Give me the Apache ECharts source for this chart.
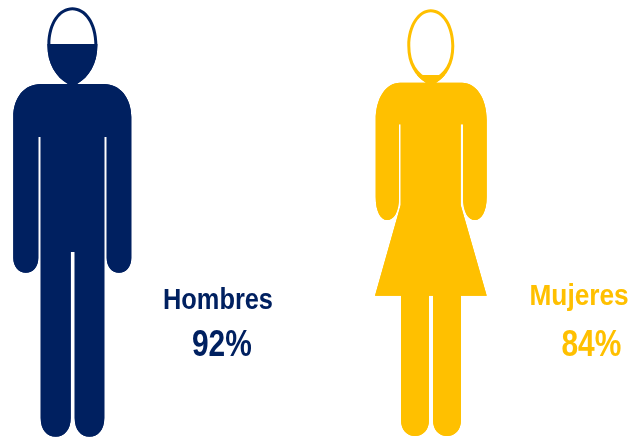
<!DOCTYPE html>
<html>
<head>
<meta charset="utf-8">
<style>html,body{margin:0;padding:0;background:#fff}#chart{width:632px;height:437px}</style>
<script src="https://cdn.jsdelivr.net/npm/echarts@6/dist/echarts.min.js"></script>
</head>
<body>
<div id="chart"></div>
<script>
// Share of each group, drawn as the filled level of a human figure
const categories = ['Hombres', 'Mujeres'];
const values = [92, 84];
const colors = ['#002060', '#FFC000'];

// Head-to-toe silhouettes; the symbol is stretched to its grid, so units are only relative
const manShape = 'M72.4 7.3C86 7.3 97.4 22 97.4 45C97.4 64 89 77 77 84L104 84C120 84 131.3 98 131.3 117L131.3 258C131.3 267 126 272.7 119 272.7C112 272.7 106.7 267 106.7 258L106.7 137L104.3 137L104.3 418C104.3 430 98 436.7 89.5 436.7C81 436.7 74.7 430 74.7 418L74.7 252L70.7 252L70.7 418C70.7 430 64 436.7 55.8 436.7C47 436.7 40.7 430 40.7 418L40.7 137L38.3 137L38.3 258C38.3 267 33 272.7 25.8 272.7C19 272.7 13.3 267 13.3 258L13.3 117C13.3 98 24 84 41 84L68 84C56 77 47.4 64 47.4 45C47.4 22 59 7.3 72.4 7.3Z';
const manHeadHole = 'M72.4 10.3C60.5 10.3 50.4 24 50.4 45C50.4 62 59 76 72.4 80.5C86 76 94.4 62 94.4 45C94.4 24 84 10.3 72.4 10.3Z';
const womanShape = 'M430.8 9.3C444 9.3 454.3 25 454.3 46C454.3 64 447 76 436 82.7L462 82.7C476 82.7 486.7 98 486.7 120L486.7 197C486.7 212 481 220 475 220C468 220 463 212 463 197L463 124.3L460.7 124.3L460.7 205L486.7 295.7L461 295.7L461 420C461 430 455 436 447 436C439 436 433 430 433 420L433 295.7L429 295.7L429 420C429 430 423 436 415 436C407 436 401 430 401 420L401 295.7L375 295.7L400.7 205L400.7 124.3L399 124.3L399 197C399 212 394 220 387 220C381 220 375.7 212 375.7 197L375.7 120C375.7 98 386 82.7 400 82.7L426 82.7C415 76 407.3 64 407.3 46C407.3 25 418 9.3 430.8 9.3Z';
const womanHeadHole = 'M430.8 12.3C419.5 12.3 410.3 27 410.3 46C410.3 62 417 74 430.8 79.5C445 74 451.3 62 451.3 46C451.3 27 442 12.3 430.8 12.3Z';
const shapes = [manShape, womanShape];
const headHoles = [manHeadHole, womanHeadHole];

// Each figure has its own plot area; the value scale runs from the feet upward
const grids = [
  { left: 13.3, top: 7.3, width: 118, height: 429.4 },
  { left: 375, top: 9.3, width: 111.7, height: 426.7 }
];
const scaleTops = [100.6, 99.3];
const labelSpots = [
  { name: [163, 301], value: [192, 346.5], nameSqueeze: 0.875 },
  { name: [529.5, 297], value: [561.5, 346.5], nameSqueeze: 0.905 }
];

const series = [];
categories.forEach((name, i) => {
  // Outline layer: the whole figure with a hollow head
  series.push({
    type: 'pictorialBar',
    name: name + ' contorno',
    xAxisIndex: i,
    yAxisIndex: i,
    silent: true,
    z: 2,
    barGap: '-100%',
    symbol: 'path://' + shapes[i] + headHoles[i],
    symbolSize: [grids[i].width, '100%'],
    symbolBoundingData: scaleTops[i],
    itemStyle: { color: colors[i] },
    data: [scaleTops[i]]
  });
  // Solid layer: cut off at the group's value
  series.push({
    type: 'pictorialBar',
    name: name,
    xAxisIndex: i,
    yAxisIndex: i,
    silent: true,
    z: 3,
    barGap: '-100%',
    symbol: 'path://' + shapes[i],
    symbolSize: [grids[i].width, '100%'],
    symbolBoundingData: scaleTops[i],
    symbolClip: true,
    itemStyle: { color: colors[i] },
    data: [values[i]]
  });
});

// Condensed bold labels: a regular bold face squeezed horizontally
function condensedText(text, spot, fontSize, color, squeeze) {
  return {
    type: 'text',
    x: spot[0],
    y: spot[1],
    scaleX: squeeze,
    silent: true,
    z: 10,
    style: {
      text: text,
      fill: color,
      font: 'bold ' + fontSize + 'px "Liberation Sans", Arial, sans-serif',
      textAlign: 'left',
      textVerticalAlign: 'middle'
    }
  };
}
const labels = [];
categories.forEach((name, i) => {
  labels.push(condensedText(name, labelSpots[i].name, 29, colors[i], labelSpots[i].nameSqueeze));
  labels.push(condensedText(values[i] + '%', labelSpots[i].value, 36, colors[i], 0.83));
});

const chart = echarts.init(document.getElementById('chart'), null, { renderer: 'canvas' });
chart.setOption({
  animation: false,
  backgroundColor: '#ffffff',
  graphic: labels,
  grid: grids,
  xAxis: categories.map((name, i) => ({ type: 'category', gridIndex: i, show: false, data: [name] })),
  yAxis: categories.map((name, i) => ({ type: 'value', gridIndex: i, show: false, min: 0, max: scaleTops[i] })),
  series: series
});
</script>
</body>
</html>
